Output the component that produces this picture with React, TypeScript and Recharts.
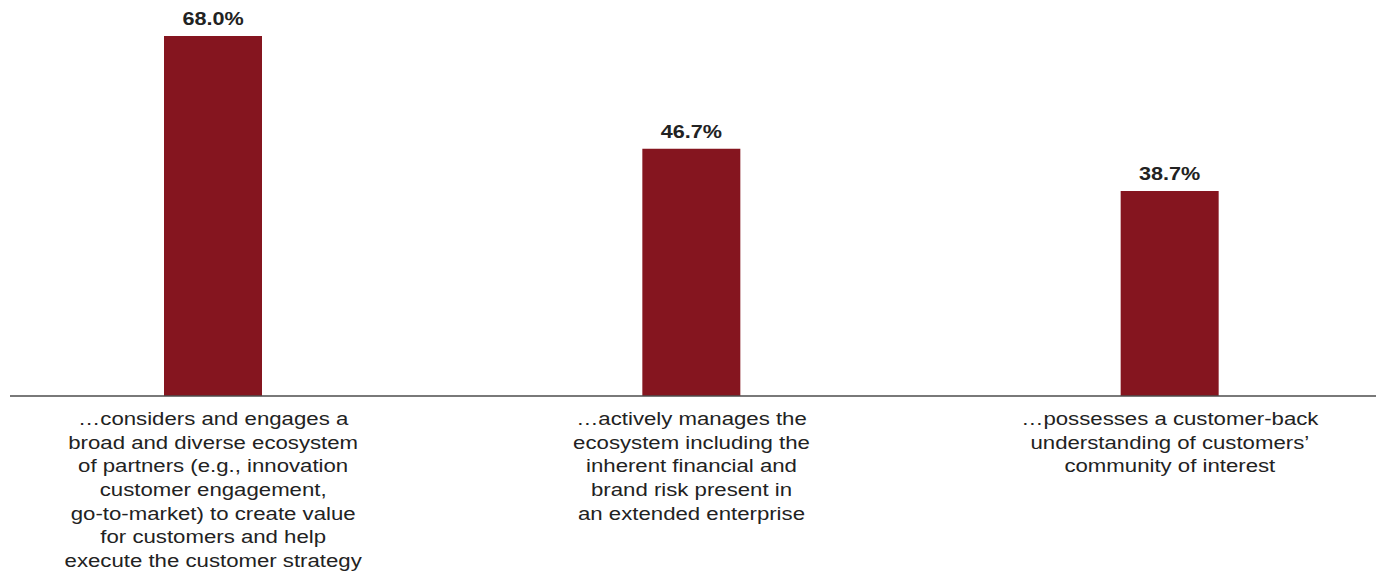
import React from "react";
import { BarChart, Bar, XAxis, YAxis, LabelList } from "recharts";

const categoryLines: string[][] = [
  [
    "…considers and engages a",
    "broad and diverse ecosystem",
    "of partners (e.g., innovation",
    "customer engagement,",
    "go-to-market) to create value",
    "for customers and help",
    "execute the customer strategy",
  ],
  [
    "…actively manages the",
    "ecosystem including the",
    "inherent financial and",
    "brand risk present in",
    "an extended enterprise",
  ],
  [
    "…possesses a customer-back",
    "understanding of customers’",
    "community of interest",
  ],
];
const categoryKeys = ["ecosystem", "manages", "possesses"];
const values = [68.0, 46.7, 38.7];

const data = categoryKeys.map((k, i) => ({ key: k, lines: categoryLines[i], value: values[i] }));

const FONT = "'Liberation Sans', Arial, Helvetica, sans-serif";
const TEXT_SCALE_X = 1.2;

const CategoryTick = (props: any) => {
  const { x, y, index } = props;
  const lines = categoryLines[index] || [];
  return (
    <g transform={`translate(${x},${y})`}>
      <text
        transform={`scale(${TEXT_SCALE_X},1)`}
        textAnchor="middle"
        fontFamily={FONT}
        fontSize={18.5}
        fill="#222222"
      >
        {lines.map((l, i) => (
          <tspan key={i} x={0} y={21 + i * 23.7}>
            {l}
          </tspan>
        ))}
      </text>
    </g>
  );
};

const ValueLabel = (props: any) => {
  const { x, y, width, value } = props;
  const cx = Number(x) + Number(width) / 2;
  return (
    <g transform={`translate(${cx},${Number(y) - 11})`}>
      <text
        transform={`scale(${TEXT_SCALE_X},1)`}
        textAnchor="middle"
        fontFamily={FONT}
        fontWeight="bold"
        fontSize={18}
        fill="#222222"
      >
        {Number(value).toFixed(1) + "%"}
      </text>
    </g>
  );
};

export default function App() {
  return (
    <div style={{ position: "absolute", left: 0, top: 0, width: 1385, height: 584, background: "#ffffff" }}>
      <BarChart
        width={1385}
        height={584}
        data={data}
        margin={{ top: 36, right: 9, left: 10, bottom: 0 }}
        barCategoryGap={0}
      >
        <XAxis
          dataKey="key"
          type="category"
          height={188}
          interval={0}
          tickLine={false}
          axisLine={{ stroke: "#4d4d4d", strokeWidth: 1.5 }}
          padding={{ left: -36, right: -33 }}
          tick={<CategoryTick />}
        />
        <YAxis hide domain={[0, 68]} type="number" />
        <Bar dataKey="value" fill="#85151f" barSize={98} isAnimationActive={false}>
          <LabelList dataKey="value" content={<ValueLabel />} />
        </Bar>
      </BarChart>
    </div>
  );
}
